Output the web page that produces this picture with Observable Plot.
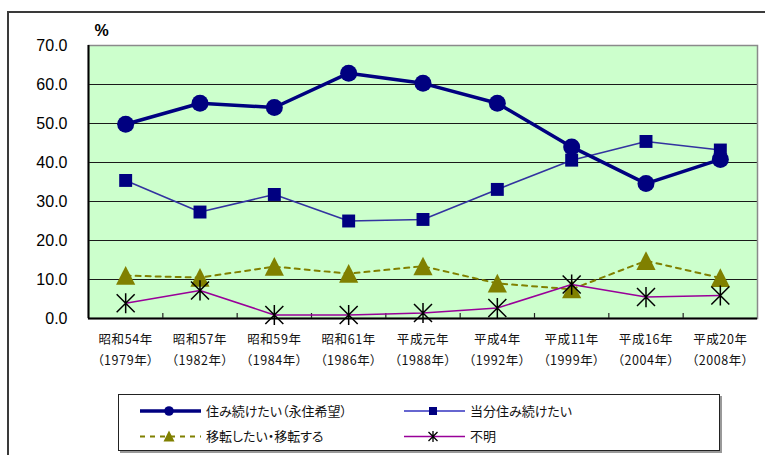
<!DOCTYPE html>
<html><head><meta charset="utf-8">
<script src="https://cdn.jsdelivr.net/npm/d3@7"></script>
<script src="https://cdn.jsdelivr.net/npm/@observablehq/plot@0.6"></script>
<style>
body{margin:0;background:#fff;}
#wrap{position:relative;width:765px;height:455px;overflow:hidden;background:#fff;}
#outer{position:absolute;left:7px;top:11px;width:800px;height:500px;border-left:2px solid #3a3a3a;border-top:2px solid #3a3a3a;}
#chart{position:absolute;left:0;top:0;}
#legend{position:absolute;left:118px;top:394px;width:600px;height:55px;border:1px solid #222;background:#fff;box-shadow:2px 2px 0 #999;}
svg text{font-feature-settings:"palt";}
.xl text{letter-spacing:0.6px;}
</style></head><body>
<div id="wrap"><div id="outer"></div><div id="chart"></div><div id="legend"></div></div>
<script>
// ---- data ----
const categories = ["昭和54年","昭和57年","昭和59年","昭和61年","平成元年","平成4年","平成11年","平成16年","平成20年"];
const yearLabels = ["（1979年）","（1982年）","（1984年）","（1986年）","（1988年）","（1992年）","（1999年）","（2004年）","（2008年）"];
const eijuu  = [49.8, 55.2, 54.1, 62.9, 60.3, 55.2, 44.0, 34.6, 40.8];
const toubun = [35.4, 27.3, 31.8, 25.0, 25.4, 33.1, 40.6, 45.4, 43.2];
const iten   = [11.0, 10.5, 13.3, 11.5, 13.4, 9.0, 7.5, 14.8, 10.4];
const fumei  = [3.9, 7.2, 0.9, 0.9, 1.4, 2.7, 8.7, 5.5, 5.9];
const seriesNames = ["住み続けたい（永住希望）","当分住み続けたい","移転したい・移転する","不明"];
const yTicks = [0, 10, 20, 30, 40, 50, 60, 70];

// ---- derived table ----
const rows = categories.map((c, i) => ({pos: i + 0.5, c, yl: yearLabels[i], eijuu: eijuu[i], toubun: toubun[i], iten: iten[i], fumei: fumei[i]}));
const boundaries = d3.range(1, categories.length);
const gridVals = yTicks.slice(1, -1);

const triSym = {draw(ctx, size){const r = Math.sqrt(size/Math.PI); ctx.moveTo(0,-r); ctx.lineTo(r,r*0.95); ctx.lineTo(-r,r*0.95); ctx.closePath();}};
const astSym = {draw(ctx, size){const r = Math.sqrt(size/Math.PI); ctx.moveTo(-r,-r); ctx.lineTo(r,r); ctx.moveTo(-r,r); ctx.lineTo(r,-r); ctx.moveTo(0,-r*1.12); ctx.lineTo(0,r*1.12);}};

const jp = "'Noto Sans CJK JP', sans-serif";
const chart = Plot.plot({
  width: 765, height: 455,
  marginLeft: 88, marginRight: 8, marginTop: 45, marginBottom: 137,
  style: {fontFamily: "'Liberation Sans', Arial, sans-serif", background: "transparent", overflow: "visible"},
  x: {type: "linear", domain: [0, categories.length], label: null},
  y: {domain: [0, 70], label: null},
  marks: [
    Plot.frame({fill: "#ccffcc", stroke: null}),
    Plot.ruleY(gridVals, {stroke: "#1a1a1a", strokeWidth: 1}),
    Plot.frame({stroke: "#8a8a8a", strokeWidth: 1.5}),
    Plot.ruleY([0], {stroke: "#000", strokeWidth: 2}),
    Plot.ruleX([0], {stroke: "#000", strokeWidth: 2}),
    Plot.axisX(boundaries, {tickSize: 5, dy: -5, tickFormat: () => "", stroke: "#222", strokeWidth: 1.2, label: null}),
    Plot.axisY(yTicks, {tickSize: 0, tickPadding: 21, tickFormat: d => d.toFixed(1), fontSize: 16, label: null}),
    Plot.text(rows, {x: "pos", text: "c", frameAnchor: "bottom", dy: 25, fontFamily: jp, fontSize: 12.5, fill: "#111", className: "xl"}),
    Plot.text(rows, {x: "pos", text: "yl", frameAnchor: "bottom", dy: 46, fontFamily: jp, fontSize: 12.5, fill: "#111", className: "xl"}),
    Plot.text(["%"], {frameAnchor: "top-left", textAnchor: "middle", lineAnchor: "middle", dx: 13, dy: -15, fontSize: 16, fontWeight: "bold"}),
    // 当分住み続けたい
    Plot.line(rows, {x: "pos", y: "toubun", stroke: "#3333a0", strokeWidth: 1.6}),
    Plot.dot(rows, {x: "pos", y: "toubun", symbol: "square", r: 7.3, fill: "#000080", stroke: "none"}),
    // 住み続けたい（永住希望）
    Plot.line(rows, {x: "pos", y: "eijuu", stroke: "#000080", strokeWidth: 3.5}),
    Plot.dot(rows, {x: "pos", y: "eijuu", r: 8.5, fill: "#000080", stroke: "none"}),
    // 移転したい・移転する
    Plot.line(rows, {x: "pos", y: "iten", stroke: "#808000", strokeWidth: 2, strokeDasharray: "5,5"}),
    Plot.dot(rows, {x: "pos", y: "iten", symbol: triSym, r: 9.6, fill: "#808000", stroke: "none"}),
    // 不明
    Plot.line(rows, {x: "pos", y: "fumei", stroke: "#990099", strokeWidth: 1.6}),
    Plot.dot(rows, {x: "pos", y: "fumei", symbol: astSym, r: 9, fill: "none", stroke: "#000", strokeWidth: 1.5})
  ]
});
document.getElementById("chart").appendChild(chart);

// ---- legend ----
const legendItems = [
  {name: seriesNames[0], col: 0, row: 0, stroke: "#000080", sw: 3.5, dash: null, mark: "circle", fill: "#000080"},
  {name: seriesNames[1], col: 1, row: 0, stroke: "#3333c0", sw: 1.6, dash: null, mark: "square", fill: "#000080"},
  {name: seriesNames[2], col: 0, row: 1, stroke: "#808000", sw: 2, dash: "5,5", mark: "triangle", fill: "#808000"},
  {name: seriesNames[3], col: 1, row: 1, stroke: "#990099", sw: 1.6, dash: null, mark: "asterisk", fill: "none"}
];
const lsvg = d3.select("#legend").append("svg").attr("width", 600).attr("height", 55);
const colX = [21, 285], rowY = [16, 41.5];
legendItems.forEach(it => {
  const g = lsvg.append("g").attr("transform", `translate(${colX[it.col]},${rowY[it.row]})`);
  g.append("line").attr("x1", 0).attr("x2", 61).attr("y1", 0).attr("y2", 0)
    .attr("stroke", it.stroke).attr("stroke-width", it.sw).attr("stroke-dasharray", it.dash);
  if (it.mark === "circle") g.append("circle").attr("cx", 29).attr("r", 4.8).attr("fill", it.fill);
  if (it.mark === "square") g.append("rect").attr("x", 25).attr("y", -4).attr("width", 8).attr("height", 8).attr("fill", it.fill);
  if (it.mark === "triangle") g.append("path").attr("d", "M29,-6L34.5,5L23.5,5Z").attr("fill", it.fill);
  if (it.mark === "asterisk") g.append("path").attr("d", "M24.5,-4.5L33.5,4.5M24.5,4.5L33.5,-4.5M29,-5.5L29,5.5").attr("stroke", "#000").attr("stroke-width", 1.3);
  g.append("text").attr("x", 66).attr("y", 0).attr("dy", "0.35em").attr("font-family", jp).attr("font-size", 13).attr("fill", "#111").text(it.name);
});
</script>
</body></html>
